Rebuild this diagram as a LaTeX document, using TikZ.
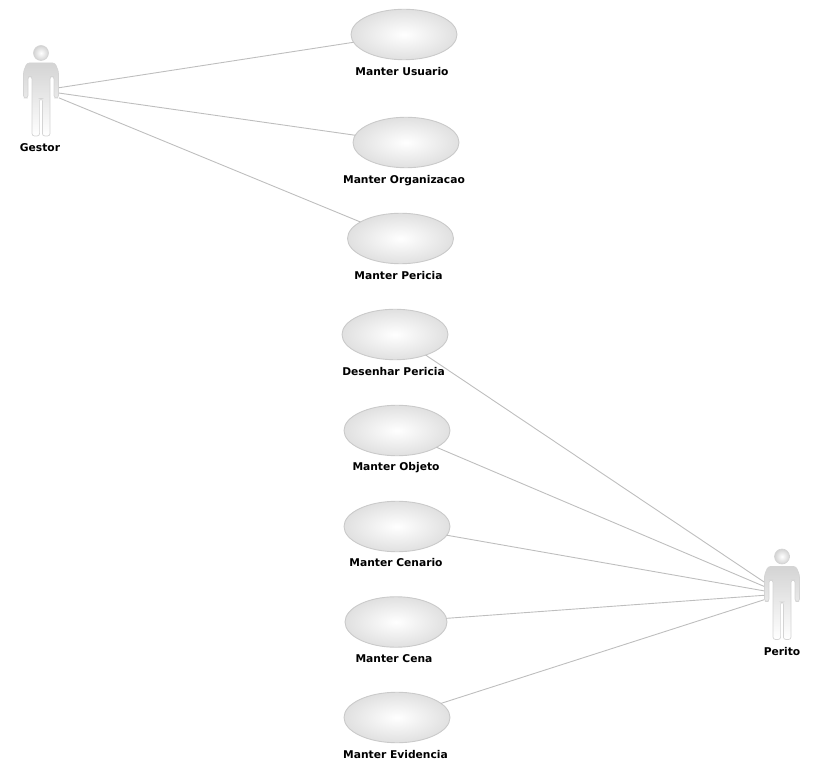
\documentclass[tikz,border=0pt]{standalone}
\usepackage{fontspec}
\setmainfont{DejaVu Sans}
\usetikzlibrary{shapes.geometric}
\definecolor{linegray}{HTML}{BEBEBE}
\definecolor{edgegray}{HTML}{CACACA}
\definecolor{fillgray}{HTML}{E0E0E0}
\definecolor{bodygray}{HTML}{D4D4D4}
\tikzset{
  usecase/.style={ellipse, draw=edgegray, line width=0.9pt, inner sep=0pt, outer sep=0pt,
    minimum width=106pt, minimum height=50.5pt, inner color=white, outer color=fillgray},
  uselabel/.style={font=\bfseries\fontsize{10.7pt}{12pt}\selectfont, inner sep=0pt, anchor=base},
  actorbox/.style={rectangle, inner sep=0pt, outer sep=0pt, minimum width=36pt, minimum height=91pt},
  assoc/.style={linegray, line width=0.9pt},
  actorman/.pic={
    \shade[top color=bodygray, bottom color=white, draw=bodygray, line width=0.7pt, rounded corners=2.5pt]
      (-17.5,-19) -- (-17.5,7.5) -- (-13,7.5) -- (-13,-14) -- (-9,-14) -- (-9,45.5) -- (-1.4,45.5) -- (-1.4,8)
      -- (1.4,8) -- (1.4,45.5) -- (9,45.5) -- (9,-14) -- (13,-14) -- (13,7.5) -- (17.5,7.5) -- (17.5,-19)
      -- (14,-27.5) -- (-14,-27.5) -- cycle;
    \shade[inner color=white, outer color=bodygray, draw=bodygray, line width=0.6pt] (0,-37.5) circle (7.5);
  }
}
\begin{document}
\begin{tikzpicture}[x=1pt,y=-1pt]
    \useasboundingbox (0,0) rectangle (827,775);

    % 1. The use cases
    \node[usecase] (usuario) at (404,34.5) {};
    \node[usecase] (organizacao) at (406,142.5) {};
    \node[usecase] (pericia) at (400.5,238.5) {};
    \node[usecase] (desenhar) at (395,334.5) {};
    \node[usecase] (objeto) at (397,430.5) {};
    \node[usecase] (cenario) at (397,526.5) {};
    \node[usecase, minimum width=102pt] (cena) at (396,622) {};
    \node[usecase] (evidencia) at (397,717.5) {};

    % 2. Their labels
    \node[uselabel] (usuariolabel) at (402,76) {Manter Usuario};
    \node[uselabel] (organizacaolabel) at (404,184) {Manter Organizacao};
    \node[uselabel] (pericialabel) at (398.5,280) {Manter Pericia};
    \node[uselabel] (desenharlabel) at (393.5,376) {Desenhar Pericia};
    \node[uselabel] (objetolabel) at (396,470) {Manter Objeto};
    \node[uselabel] (cenariolabel) at (396,566) {Manter Cenario};
    \node[uselabel] (cenalabel) at (394,662) {Manter Cena};
    \node[uselabel] (evidencialabel) at (395.5,758) {Manter Evidencia};

    % 3. The two actors
    \pic at (41,90.5) {actorman};
    \node[actorbox] (gestor) at (41,90.5) {};
    \node[uselabel] (gestorlabel) at (40,152) {Gestor};
    \pic at (782,594) {actorman};
    \node[actorbox] (perito) at (782,594) {};
    \node[uselabel] (peritolabel) at (782,655) {Perito};

    % 4. Associations
    \foreach \a in {usuario,organizacao,pericia}
      \draw[assoc] (gestor) -- (\a);
    \foreach \a in {desenhar,objeto,cenario,cena,evidencia}
      \draw[assoc] (\a) -- (perito);

\end{tikzpicture}
\end{document}
